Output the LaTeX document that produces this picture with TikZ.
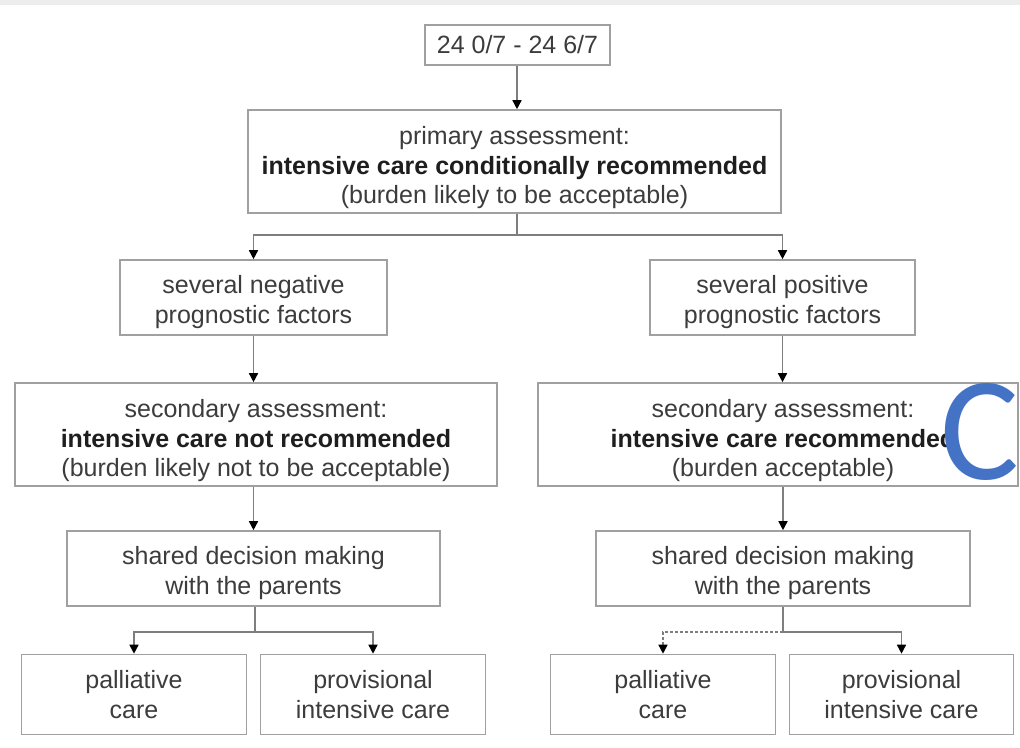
\documentclass[tikz,border=0pt]{standalone}
\usepackage{fontspec}
\setmainfont{Liberation Sans}
\newfontfamily\cfont{Carlito}
\usetikzlibrary{arrows.meta}
\definecolor{boxgrey}{HTML}{A0A0A0}
\definecolor{linegrey}{HTML}{7E7E7E}
\definecolor{txtgrey}{HTML}{3C3C3C}
\definecolor{boldtxt}{HTML}{1E1E1E}
\definecolor{cblue}{HTML}{4472C4}
\definecolor{stripgrey}{HTML}{EDEDED}
\newcommand\upa{\rule{0pt}{31pt}}
\newcommand\upb{\rule{0pt}{27pt}}
\begin{document}
\begin{tikzpicture}[x=1pt,y=-1pt,
  box/.style={draw=boxgrey,line width=1.6pt,inner sep=0pt,align=center,text=txtgrey,
    font=\fontsize{25}{29.5}\selectfont},
  txt/.style={inner sep=0pt,align=center,text=txtgrey,font=\fontsize{25}{29.5}\selectfont},
  conn/.style={draw=linegrey,line width=1.5pt},
  arr/.style={conn,-{Triangle[length=9pt,width=9pt,fill=black,color=black]}},
  dotarr/.style={arr,dash pattern=on 3pt off 2pt}
]
\useasboundingbox (0,0) rectangle (1020,747);
\fill[stripgrey] (0,0) rectangle (1020,5);

\node[box,minimum width=185,minimum height=40] (top) at (517.5,45) {24 0/7 - 24 6/7};
\node[box,minimum width=533,minimum height=103] (prim) at (514.5,161.5)
  {\upa primary assessment:\\\textcolor{boldtxt}{\textbf{intensive care conditionally recommended}}\\(burden likely to be acceptable)};
\node[box,minimum width=267,minimum height=75] (neg) at (253.5,297.5) {\upb several negative\\prognostic factors};
\node[box,minimum width=265,minimum height=75] (pos) at (782.5,297.5) {\upb several positive\\prognostic factors};
\node[box,minimum width=482,minimum height=103] (secL) at (256,434.5)
  {\upa secondary assessment:\\\textcolor{boldtxt}{\textbf{intensive care not recommended}}\\(burden likely not to be acceptable)};
\node[box,minimum width=480,minimum height=103] (secR) at (778,434.5) {};
\node[txt] (secRt) at (783,434.5)
  {\upa secondary assessment:\\\textcolor{boldtxt}{\textbf{intensive care recommended}}\\(burden acceptable)};
\node[box,minimum width=373,minimum height=75] (sdmL) at (253.5,568.5) {\upb shared decision making\\with the parents};
\node[box,minimum width=374,minimum height=75] (sdmR) at (783,568.5) {\upb shared decision making\\with the parents};
\node[box,minimum width=225,minimum height=80] (palL) at (134,694.5) {palliative\\care};
\node[box,minimum width=225,minimum height=80] (provL) at (373,694.5) {provisional\\intensive care};
\node[box,minimum width=225,minimum height=80] (palR) at (663,694.5) {palliative\\care};
\node[box,minimum width=224,minimum height=80] (provR) at (901.5,694.5) {provisional\\intensive care};

\node[inner sep=0pt,text=cblue,font=\cfont\fontsize{148}{148}\selectfont] (C) at (980,432) {C};

\coordinate (j1) at (517,235);
\coordinate (j2) at (255,632);
\coordinate (j3) at (783,632);

\draw[arr] (top.south -| j1) -- (prim.north -| j1);
\draw[conn] (prim.south -| j1) -- (j1);
\draw[arr] (j1) -| (neg.north);
\draw[arr] (j1) -| (pos.north);
\draw[arr] (neg.south) -- (neg.south |- secL.north);
\draw[arr] (pos.south) -- (pos.south |- secR.north);
\draw[arr] (secL.south -| neg.south) -- (sdmL.north -| neg.south);
\draw[arr] (secR.south -| sdmR.south) -- (sdmR.north);
\draw[conn] (sdmL.south -| j2) -- (j2);
\draw[arr] (j2) -| (palL.north);
\draw[arr] (j2) -| (provL.north);
\draw[conn] (sdmR.south) -- (j3);
\draw[dotarr] (j3) -| (palR.north);
\draw[arr] (j3) -| (provR.north);
\end{tikzpicture}
\end{document}
